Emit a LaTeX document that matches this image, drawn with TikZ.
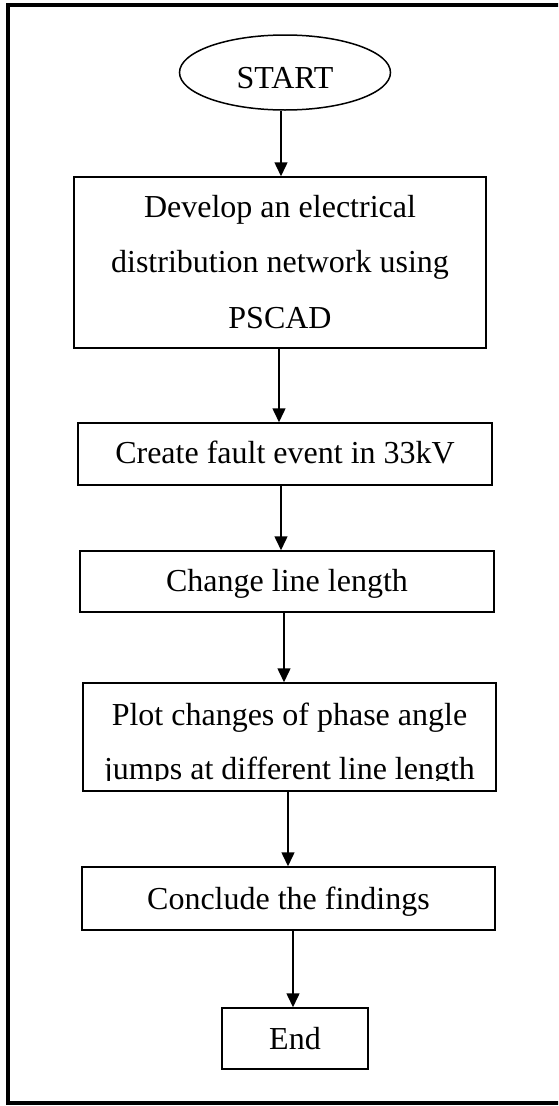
\documentclass[tikz,border=0pt]{standalone}
\usepackage{fontspec}
\setmainfont{Liberation Serif}
\usetikzlibrary{arrows.meta,shapes.geometric}
\begin{document}
\begin{tikzpicture}[x=1pt,y=-1pt,
  box/.style={draw,rectangle,line width=1.5pt,inner sep=0pt},
  oval/.style={draw,ellipse,line width=1.5pt,inner sep=0pt},
  txt/.style={anchor=base,inner sep=0pt,font=\fontsize{32}{38}\selectfont},
  arr/.style={line width=1.5pt,-{Triangle[length=14pt,width=13pt]}},
  frame/.style={line width=4.5pt}]
\useasboundingbox (0,0) rectangle (558,1106);
\clip (0,0) rectangle (558,1106);
% outer frame (right side lies beyond the picture)
\draw[frame] (570,5) -- (8,5) -- (8,1103) -- (570,1103);
% shapes
\node[oval,minimum width=211pt,minimum height=75pt] (s) at (285,72.5) {};
\node[box,minimum width=412pt,minimum height=171pt] (b1) at (280,262.5) {};
\node[box,minimum width=414pt,minimum height=62pt] (b2) at (285,454) {};
\node[box,minimum width=414pt,minimum height=61pt] (b3) at (287,581.5) {};
\node[box,minimum width=413pt,minimum height=108pt] (b4) at (289.5,737) {};
\node[box,minimum width=413pt,minimum height=63pt] (b5) at (288.5,898.5) {};
\node[box,minimum width=146pt,minimum height=61pt] (b6) at (295,1038.5) {};
% texts
\node[txt] (ts) at (285,88) {START};
\node[txt] (t1a) at (280,217) {Develop an electrical};
\node[txt] (t1b) at (280,272) {distribution network using};
\node[txt] (t1c) at (280,328) {PSCAD};
\node[txt] (t2) at (285,463) {Create fault event in 33kV};
\node[txt] (t3) at (287,591) {Change line length};
\node[txt] (t4a) at (289.5,725) {Plot changes of phase angle};
\begin{scope}
  \clip (84,684) rectangle (495,780);
  \node[txt] (t4b) at (289.5,779) {jumps at different line length};
\end{scope}
\node[txt] (t5) at (288.5,909) {Conclude the findings};
\node[txt] (t6) at (295,1049) {End};
% connectors
\coordinate (x1) at (281,0);
\coordinate (x2) at (279,0);
\coordinate (x3) at (281,0);
\coordinate (x4) at (284,0);
\coordinate (x5) at (288,0);
\coordinate (x6) at (293,0);
\draw[arr] (s.south -| x1) -- (b1.north -| x1);
\draw[arr] (b1.south -| x2) -- (b2.north -| x2);
\draw[arr] (b2.south -| x3) -- (b3.north -| x3);
\draw[arr] (b3.south -| x4) -- (b4.north -| x4);
\draw[arr] (b4.south -| x5) -- (b5.north -| x5);
\draw[arr] (b5.south -| x6) -- (b6.north -| x6);
\end{tikzpicture}
\end{document}
